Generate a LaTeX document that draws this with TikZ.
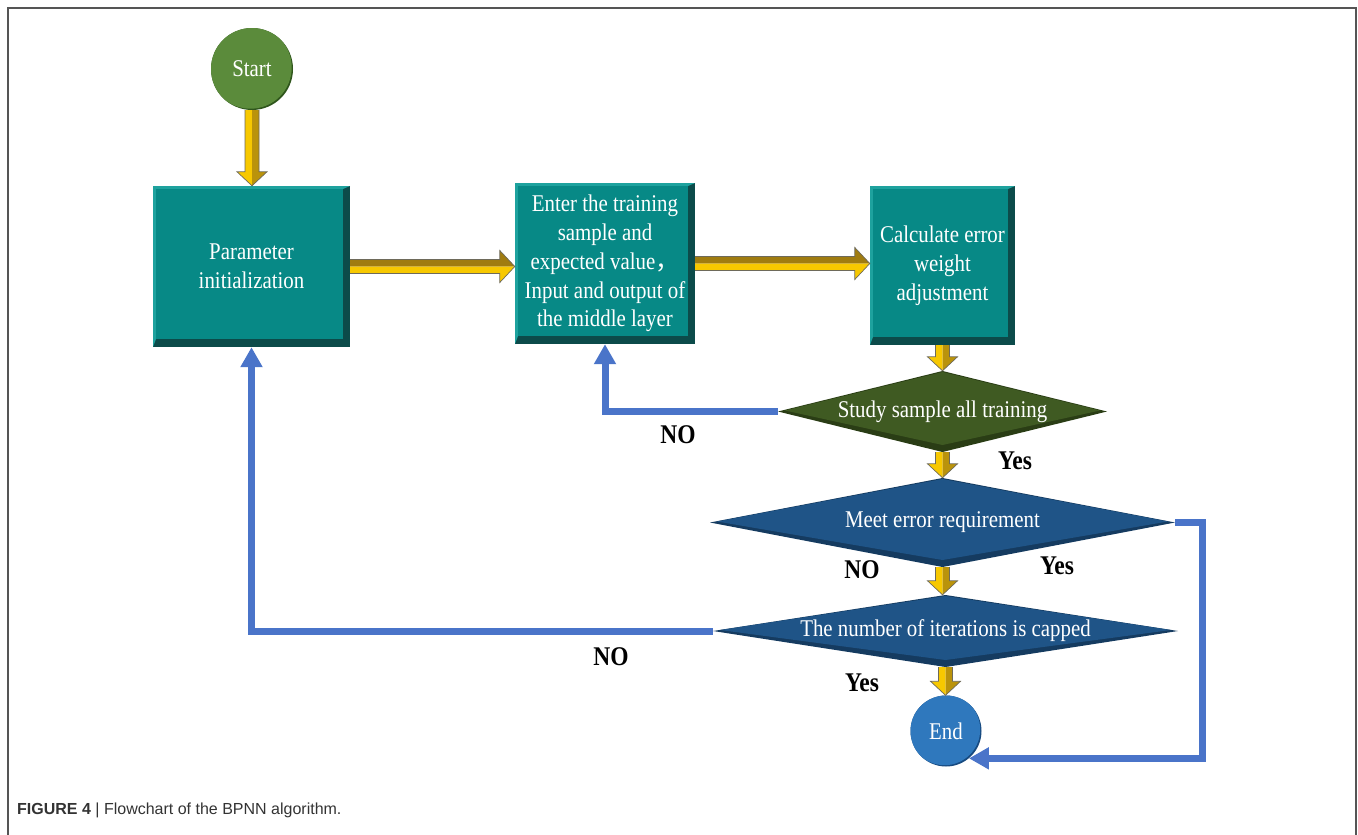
\documentclass[tikz,border=0pt]{standalone}
\usepackage{fontspec}
\setmainfont{Liberation Serif}[FakeStretch=0.87]
\newfontfamily\capfont{Liberation Sans}
\newfontfamily\cjk{Noto Sans CJK SC}
\usetikzlibrary{arrows.meta,calc}

% palette
\definecolor{tealmain}{HTML}{078986}
\definecolor{tealdark}{HTML}{0C4B4A}
\definecolor{teallight}{HTML}{1EA29E}
\definecolor{greendia}{HTML}{3F5A22}
\definecolor{greendiadark}{HTML}{2A3D15}
\definecolor{bluedia}{HTML}{1F5487}
\definecolor{bluediadark}{HTML}{153B60}
\definecolor{startmain}{HTML}{5B8B3B}
\definecolor{startdark}{HTML}{2F561C}
\definecolor{endmain}{HTML}{2F78BD}
\definecolor{enddark}{HTML}{174A80}
\definecolor{loopblue}{HTML}{4A74C9}
\definecolor{arrowyellow}{HTML}{F7C800}
\definecolor{arrowgold}{HTML}{A07C10}
\definecolor{arrowedge}{HTML}{6E6A5A}
\definecolor{framegray}{HTML}{555555}
\definecolor{captext}{HTML}{333333}

\newcommand\boxfont{\fontsize{24}{28.8}\selectfont}
\newcommand\labfont{\fontsize{27}{30}\selectfont\bfseries}

\tikzset{
  stepbox/.style={
    rectangle, inner sep=0pt, align=center, text=white, font=\boxfont,
    fill=tealdark,
    path picture={
      \fill[teallight] (path picture bounding box.north west)
        -- (path picture bounding box.north east)
        -- ([xshift=-7pt,yshift=-3pt]path picture bounding box.north east)
        -- ([xshift=3pt,yshift=-3pt]path picture bounding box.north west)
        -- ([xshift=3pt,yshift=8pt]path picture bounding box.south west)
        -- (path picture bounding box.south west) -- cycle;
      \fill[tealmain] ([xshift=3pt,yshift=-3pt]path picture bounding box.north west)
        rectangle ([xshift=-7pt,yshift=8pt]path picture bounding box.south east);
    }},
  decision/.style 2 args={
    rectangle, inner sep=0pt, align=center, text=white, font=\boxfont,
    path picture={
      \fill[#2] (path picture bounding box.west) -- (path picture bounding box.north)
        -- (path picture bounding box.east) -- (path picture bounding box.south) -- cycle;
      \fill[#1] ([xshift=7pt,yshift=1pt]path picture bounding box.west)
        -- ([yshift=-1pt]path picture bounding box.north)
        -- ([xshift=-7pt,yshift=1pt]path picture bounding box.east)
        -- ([yshift=7pt]path picture bounding box.south) -- cycle;
    }},
  terminal/.style 2 args={
    circle, inner sep=0pt, text=white, font=\boxfont, fill=#2,
    path picture={
      \fill[#1] ([xshift=-1.5pt,yshift=1.5pt]path picture bounding box.center) circle (\radius);
    }},
  loopline/.style={draw=loopblue, line width=7pt, line cap=butt, line join=miter,
    -{Triangle[length=20pt,width=21pt]}},
  answer/.style={font=\labfont, text=black, inner sep=0pt},
}
\newcommand\radius{35pt}

% yellow block arrows drawn between two named nodes
\newcommand\yarrowH[2]{%
  \fill[arrowgold] let \p1=(#1.east), \p2=(#2.west) in
    (\x1,\y1) -- (\x1,\y1+7pt) -- (\x2-15pt,\y1+7pt) -- (\x2-15pt,\y1+16pt) -- (\x2,\y1) -- cycle;
  \fill[arrowyellow] let \p1=(#1.east), \p2=(#2.west) in
    (\x1,\y1) -- (\x2,\y1) -- (\x2-15pt,\y1-16pt) -- (\x2-15pt,\y1-7pt) -- (\x1,\y1-7pt) -- cycle;
  \draw[arrowedge, line width=0.7pt] let \p1=(#1.east), \p2=(#2.west) in
    (\x1,\y1+7pt) -- (\x2-15pt,\y1+7pt) -- (\x2-15pt,\y1+16pt) -- (\x2,\y1)
    -- (\x2-15pt,\y1-16pt) -- (\x2-15pt,\y1-7pt) -- (\x1,\y1-7pt);
}
\newcommand\yarrowV[2]{%
  \fill[arrowyellow] let \p1=(#1.south), \p2=(#2.north) in
    (\x1,\y1) -- (\x1-7pt,\y1) -- (\x1-7pt,\y2+14pt) -- (\x1-15pt,\y2+14pt) -- (\x1,\y2) -- cycle;
  \fill[arrowgold!70!arrowyellow] let \p1=(#1.south), \p2=(#2.north) in
    (\x1,\y1) -- (\x1+7pt,\y1) -- (\x1+7pt,\y2+14pt) -- (\x1+15pt,\y2+14pt) -- (\x1,\y2) -- cycle;
  \draw[arrowedge, line width=0.7pt] let \p1=(#1.south), \p2=(#2.north) in
    (\x1-7pt,\y1) -- (\x1-7pt,\y2+14pt) -- (\x1-15pt,\y2+14pt) -- (\x1,\y2)
    -- (\x1+15pt,\y2+14pt) -- (\x1+7pt,\y2+14pt) -- (\x1+7pt,\y1);
}

\begin{document}
\begin{tikzpicture}[x=1pt,y=-1pt]
\useasboundingbox (0,0) rectangle (1358,835);

% frame
\draw[framegray, line width=1.6pt] (8,835) -- (8,8) -- (1356,8) -- (1356,835);

% process nodes
\node[terminal={startmain}{startdark}, minimum size=82pt] (start) at (252,69) {Start};
\node[stepbox, minimum width=197pt, minimum height=161pt] (init) at (251.5,266.5)
  {Parameter\\initialization};
\node[stepbox, minimum width=180pt, minimum height=161pt] (enter) at (605,263.5)
  {Enter the training\\sample and\\expected value{\cjk ，}\\Input and output of\\the middle layer};
\node[stepbox, minimum width=145pt, minimum height=159pt] (calc) at (942.5,265.5)
  {Calculate error\\weight\\adjustment};

% decisions
\node[decision={greendia}{greendiadark}, minimum width=329pt, minimum height=81pt]
  (study) at (942.5,411.5) {Study sample all training};
\node[decision={bluedia}{bluediadark}, minimum width=465pt, minimum height=89pt]
  (meet) at (942.5,522.5) {Meet error requirement};
\node[decision={bluedia}{bluediadark}, minimum width=465pt, minimum height=72pt]
  (iter) at (945.5,631) {The number of iterations is capped};

\renewcommand\radius{30pt}
\node[terminal={endmain}{enddark}, minimum size=71pt] (end) at (946,731) {End};

% main flow
\yarrowV{start}{init}
\yarrowH{init}{enter}
\yarrowH{enter}{calc}
\yarrowV{calc}{study}
\yarrowV{study}{meet}
\yarrowV{meet}{iter}
\yarrowV{iter}{end}

% feedback loops
\draw[loopline] (study.west) -| (enter.south);
\draw[loopline] (iter.west) -| (init.south);
\draw[loopline] (meet.east) -- ++(27,0) |- (end.-50);

% branch labels
\node[answer] (no1) at (678,435) {NO};
\node[answer] (yes1) at (1015,461) {Yes};
\node[answer] (no2) at (862,570) {NO};
\node[answer] (yes2) at (1057,566) {Yes};
\node[answer] (no3) at (611,657) {NO};
\node[answer] (yes3) at (862,683) {Yes};

% caption
\node[anchor=base west, inner sep=0pt, text=captext] (caption) at (17,814)
  {\capfont\fontsize{16}{18}\selectfont\textbf{FIGURE 4} | Flowchart of the BPNN algorithm.};
\end{tikzpicture}
\end{document}
